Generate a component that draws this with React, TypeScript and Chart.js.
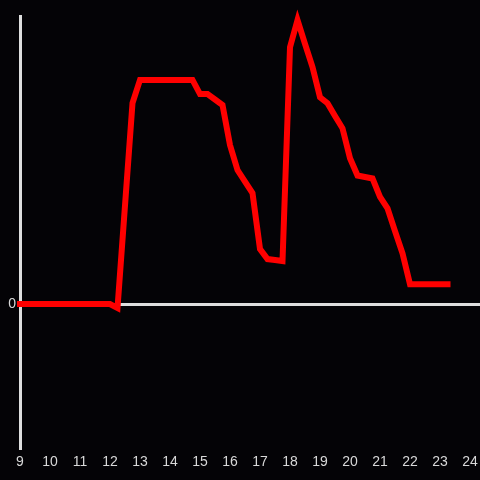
import React, { useEffect, useRef } from "react";
import { Chart, registerables } from "chart.js";

Chart.register(...registerables);

const times: string[] = [
  "9:00", "9:15", "9:30", "9:45", "10:00", "10:15", "10:30", "10:45",
  "11:00", "11:15", "11:30", "11:45", "12:00", "12:15", "12:30", "12:45",
  "13:00", "13:15", "13:30", "13:45", "14:00", "14:15", "14:30", "14:45",
  "15:00", "15:15", "15:30", "15:45", "16:00", "16:15", "16:30", "16:45",
  "17:00", "17:15", "17:30", "17:45", "18:00", "18:15", "18:30", "18:45",
  "19:00", "19:15", "19:30", "19:45", "20:00", "20:15", "20:30", "20:45",
  "21:00", "21:15", "21:30", "21:45", "22:00", "22:15", "22:30", "22:45",
  "23:00", "23:15",
];

const values: number[] = [
  0, 0, 0, 0, 0, 0, 0, 0,
  0, 0, 0, 0, 0, -1.4, 34.2, 69.8,
  77.8, 77.8, 77.8, 77.8, 77.8, 77.8, 77.8, 77.8,
  72.9, 72.9, 71.0, 69.1, 55.2, 46.5, 42.5, 38.5,
  19.1, 15.6, 15.3, 14.9, 89.2, 98.6, 90.3, 82.3,
  71.8, 69.7, 65.3, 61.0, 50.6, 44.6, 44.1, 43.6,
  37.2, 33.2, 25.3, 17.6, 6.9, 6.9, 6.9, 6.9,
  6.9, 6.9,
];

const xTickLabels: number[] = [9, 10, 11, 12, 13, 14, 15, 16, 17, 18, 19, 20, 21, 22, 23, 24];
const yTickLabels: number[] = [0];

const toHours = (t: string) => {
  const [h, m] = t.split(":").map(Number);
  return h + m / 60;
};

export default function App() {
  const ref = useRef<HTMLCanvasElement | null>(null);

  useEffect(() => {
    if (!ref.current) return;
    const textColor = "#d8d8d8";
    const lineColor = "#dedede";
    const chart = new Chart(ref.current, {
      type: "line",
      data: {
        datasets: [
          {
            data: times.map((t, i) => ({ x: toHours(t), y: values[i] })),
            borderColor: "#ff0000",
            borderWidth: 6,
            pointRadius: 0,
            tension: 0,
            borderJoinStyle: "miter",
            borderCapStyle: "square",
            clip: false as any,
          },
        ],
      },
      options: {
        animation: false,
        responsive: false,
        maintainAspectRatio: false,
        layout: { padding: { top: 16, right: 0, left: 0, bottom: 0 } },
        plugins: { legend: { display: false }, tooltip: { enabled: false } },
        scales: {
          x: {
            type: "linear",
            min: 9,
            max: 24.333,
            afterBuildTicks: (scale: any) => {
              scale.ticks = xTickLabels.map((v) => ({ value: v }));
            },
            afterFit: (scale: any) => {
              scale.height = 32;
              scale.paddingLeft = 0;
              scale.paddingRight = 0;
            },
            grid: { display: false, drawTicks: false },
            border: { display: false },
            ticks: {
              color: textColor,
              padding: 6,
              maxRotation: 0,
              autoSkip: false,
              font: { family: "Liberation Sans", size: 14 },
            },
          },
          y: {
            type: "linear",
            min: -50,
            max: 100,
            afterBuildTicks: (scale: any) => {
              scale.ticks = yTickLabels.map((v) => ({ value: v }));
            },
            afterFit: (scale: any) => {
              scale.width = 20;
              scale.paddingTop = 0;
              scale.paddingBottom = 0;
            },
            grid: {
              display: true,
              drawTicks: false,
              color: lineColor,
              lineWidth: 3,
            },
            border: { display: true, color: lineColor, width: 3 },
            ticks: {
              color: textColor,
              padding: 4,
              font: { family: "Liberation Sans", size: 14 },
            },
          },
        },
      },
    });
    return () => chart.destroy();
  }, []);

  return (
    <div
      style={{
        position: "fixed",
        left: 0,
        top: 0,
        width: 480,
        height: 480,
        background: "#040306",
      }}
    >
      <canvas ref={ref} width={480} height={480} style={{ display: "block" }} />
    </div>
  );
}
